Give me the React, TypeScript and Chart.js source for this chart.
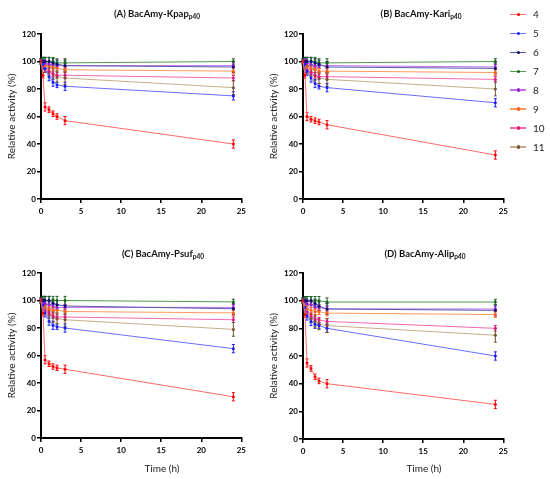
import React, { useEffect, useRef } from 'react';
import Chart from 'chart.js/auto';

// sampling times (h) and buffer pH of each series
const times = [0, 0.25, 0.5, 1, 1.5, 2, 3, 24];
const phLevels = ['4', '5', '6', '7', '8', '9', '10', '11'];

const lineColors = ['#ff6a6a', '#6c6cff', '#5a5aa8', '#4f9a4f', '#bd6ff0', '#ff9a5c', '#f06aae', '#c9ad8a'];
const pointColors = ['#ff0000', '#1a1aff', '#0c0c78', '#166616', '#9a1fd6', '#ff6010', '#e0157a', '#6e5230'];

// +/- error for each pH (same order as times)
const phErrors = [
  [1, 2, 3, 2, 2, 2, 3, 3],
  [1, 2, 3, 3, 3, 2, 3, 3],
  [2, 3, 3, 3, 3, 3, 4, 4],
  [2, 3, 3, 3, 3, 3, 3, 2],
  [1, 2, 2, 2, 2, 2, 2, 2],
  [1, 2, 2, 2, 2, 2, 2, 2],
  [1, 2, 2, 2, 2, 2, 2, 2],
  [1, 3, 3, 3, 4, 4, 5, 5],
];

// relative activity (%), one row per pH 4..11
const kpapValues = [
  [100, 90, 67, 65, 62, 60, 57, 40],
  [100, 98, 95, 89, 85, 83, 82, 75],
  [100, 100, 100, 100, 99, 98, 97, 96],
  [100, 100, 100, 100, 100, 99, 99, 100],
  [100, 99, 99, 98, 98, 97, 97, 97],
  [100, 98, 97, 97, 96, 95, 94, 93],
  [100, 97, 95, 93, 91, 90, 90, 88],
  [100, 97, 95, 93, 91, 89, 88, 81],
];
const kariValues = [
  [100, 90, 60, 58, 57, 56, 54, 32],
  [100, 98, 93, 88, 84, 82, 81, 70],
  [100, 100, 100, 100, 99, 98, 96, 95],
  [100, 100, 100, 100, 100, 99, 99, 100],
  [100, 100, 99, 98, 97, 97, 97, 96],
  [100, 98, 96, 95, 94, 93, 93, 92],
  [100, 97, 94, 92, 90, 89, 89, 87],
  [100, 97, 94, 92, 90, 88, 87, 80],
];
const psufValues = [
  [100, 91, 57, 54, 52, 51, 50, 30],
  [100, 97, 91, 85, 82, 81, 80, 65],
  [100, 100, 100, 100, 98, 97, 96, 94],
  [100, 100, 100, 100, 100, 100, 100, 99],
  [100, 99, 98, 97, 96, 95, 95, 95],
  [100, 97, 95, 94, 93, 93, 92, 91],
  [100, 96, 93, 91, 89, 88, 88, 86],
  [100, 96, 93, 90, 88, 87, 86, 79],
];
const alipValues = [
  [100, 90, 55, 51, 45, 42, 40, 25],
  [100, 95, 89, 85, 83, 82, 80, 60],
  [100, 100, 100, 100, 98, 96, 94, 93],
  [100, 100, 100, 100, 100, 100, 99, 99],
  [100, 99, 98, 97, 96, 95, 94, 94],
  [100, 97, 94, 93, 92, 92, 91, 90],
  [100, 96, 92, 89, 87, 86, 85, 80],
  [100, 95, 91, 87, 85, 83, 82, 75],
];

const FONT = 'Lato, "Open Sans", sans-serif';

const errorBars = {
  id: 'errorBars',
  beforeDatasetsDraw(chart: any) {
    const { ctx, scales } = chart;
    const xs = scales.x;
    const ys = scales.y;
    chart.data.datasets.forEach((ds: any) => {
      if (!ds.errors) return;
      ctx.save();
      ctx.strokeStyle = ds.pointBackgroundColor;
      ctx.lineWidth = 1;
      ds.data.forEach((p: any, i: number) => {
        const px = xs.getPixelForValue(p.x);
        const top = ys.getPixelForValue(p.y + ds.errors[i]);
        const bot = ys.getPixelForValue(p.y - ds.errors[i]);
        ctx.beginPath();
        ctx.moveTo(px, top);
        ctx.lineTo(px, bot);
        ctx.moveTo(px - 1.5, top);
        ctx.lineTo(px + 1.5, top);
        ctx.moveTo(px - 1.5, bot);
        ctx.lineTo(px + 1.5, bot);
        ctx.stroke();
      });
      ctx.restore();
    });
  },
};

interface PanelProps {
  values: number[][];
  left: number;
  top: number;
  width: number;
  height: number;
  area: { left: number; right: number; top: number; bottom: number };
}

const Panel: React.FC<PanelProps> = ({ values, left, top, width, height, area }) => {
  const canvasRef = useRef<HTMLCanvasElement | null>(null);

  useEffect(() => {
    if (!canvasRef.current) return;
    const chart = new Chart(canvasRef.current, {
      type: 'line',
      data: {
        datasets: values.map((row, i) => ({
          label: phLevels[i],
          data: row.map((v, j) => ({ x: times[j], y: v })),
          errors: phErrors[i],
          borderColor: lineColors[i],
          borderWidth: 1,
          pointRadius: 1.5,
          pointBackgroundColor: pointColors[i],
          pointBorderColor: pointColors[i],
          pointBorderWidth: 0,
          tension: 0,
        })) as any,
      },
      options: {
        animation: false,
        responsive: true,
        maintainAspectRatio: false,
        layout: { padding: { left: 0, right: width - area.right, top: area.top, bottom: 0 } },
        plugins: { legend: { display: false }, tooltip: { enabled: false } },
        scales: {
          x: {
            type: 'linear',
            min: 0,
            max: 25,
            ticks: { stepSize: 5, color: '#000', padding: 4, font: { family: FONT, size: 8, weight: 'bold' } },
            grid: { drawOnChartArea: false, drawTicks: true, tickLength: 4, color: '#000', lineWidth: 1.5 },
            border: { color: '#000', width: 2 },
            afterFit: (s: any) => { s.height = height - area.bottom; },
          },
          y: {
            min: 0,
            max: 120,
            ticks: { stepSize: 20, color: '#000', padding: 1, font: { family: FONT, size: 8, weight: 'bold' } },
            grid: { drawOnChartArea: false, drawTicks: true, tickLength: 4, color: '#000', lineWidth: 1.5 },
            border: { color: '#000', width: 2 },
            title: {
              display: true,
              text: 'Relative activity (%)',
              color: '#222',
              padding: { top: 6, bottom: 0 },
              font: { family: FONT, size: 10 },
            },
            afterFit: (s: any) => { s.width = area.left; },
          },
        },
      },
      plugins: [errorBars],
    });
    return () => chart.destroy();
  }, [values]);

  return (
    <div style={{ position: 'absolute', left, top, width, height }}>
      <canvas ref={canvasRef} />
    </div>
  );
};

const titleStyle: React.CSSProperties = {
  position: 'absolute',
  transform: 'translate(-50%, -50%)',
  fontFamily: FONT,
  fontWeight: 'bold',
  fontSize: 9.5,
  whiteSpace: 'nowrap',
  color: '#111',
};
const subStyle: React.CSSProperties = { fontSize: 6.5, verticalAlign: -2 };
const timeStyle: React.CSSProperties = {
  position: 'absolute',
  transform: 'translate(-50%, -50%)',
  fontFamily: FONT,
  fontSize: 10,
  color: '#222',
  whiteSpace: 'nowrap',
};

const App: React.FC = () => {
  return (
    <div style={{ position: 'fixed', left: 0, top: 0, width: 550, height: 479, background: '#fff', overflow: 'hidden' }}>
      <Panel values={kpapValues} left={0} top={0} width={250} height={240} area={{ left: 41, right: 245, top: 34, bottom: 199 }} />
      <Panel values={kariValues} left={262} top={0} width={250} height={240} area={{ left: 41, right: 242, top: 34, bottom: 199 }} />
      <Panel values={psufValues} left={0} top={240} width={250} height={239} area={{ left: 41, right: 245, top: 33, bottom: 198 }} />
      <Panel values={alipValues} left={262} top={240} width={250} height={239} area={{ left: 41, right: 242, top: 33, bottom: 199 }} />

      <div style={{ ...titleStyle, left: 157, top: 14 }}>(A) BacAmy-Kpap<span style={subStyle}>p40</span></div>
      <div style={{ ...titleStyle, left: 421, top: 14 }}>(B) BacAmy-Kari<span style={subStyle}>p40</span></div>
      <div style={{ ...titleStyle, left: 163, top: 254 }}>(C) BacAmy-Psuf<span style={subStyle}>p40</span></div>
      <div style={{ ...titleStyle, left: 425, top: 254 }}>(D) BacAmy-Alip<span style={subStyle}>p40</span></div>

      <div style={{ ...timeStyle, left: 162, top: 468 }}>Time (h)</div>
      <div style={{ ...timeStyle, left: 424, top: 468 }}>Time (h)</div>

      {phLevels.map((ph, i) => (
        <div key={ph} style={{ position: 'absolute', left: 510, top: 14.3 + i * 18.9 - 6, height: 12, width: 40 }}>
          <div style={{ position: 'absolute', left: 0, top: 5.5, width: 16, height: 1.5, background: lineColors[i] }} />
          <div style={{ position: 'absolute', left: 6.5, top: 4.5, width: 3.5, height: 3.5, borderRadius: 2, background: pointColors[i] }} />
          <div style={{ position: 'absolute', left: 23, top: 0, fontFamily: FONT, fontSize: 10, lineHeight: '12px', color: '#222' }}>{ph}</div>
        </div>
      ))}
    </div>
  );
};

export default App;
